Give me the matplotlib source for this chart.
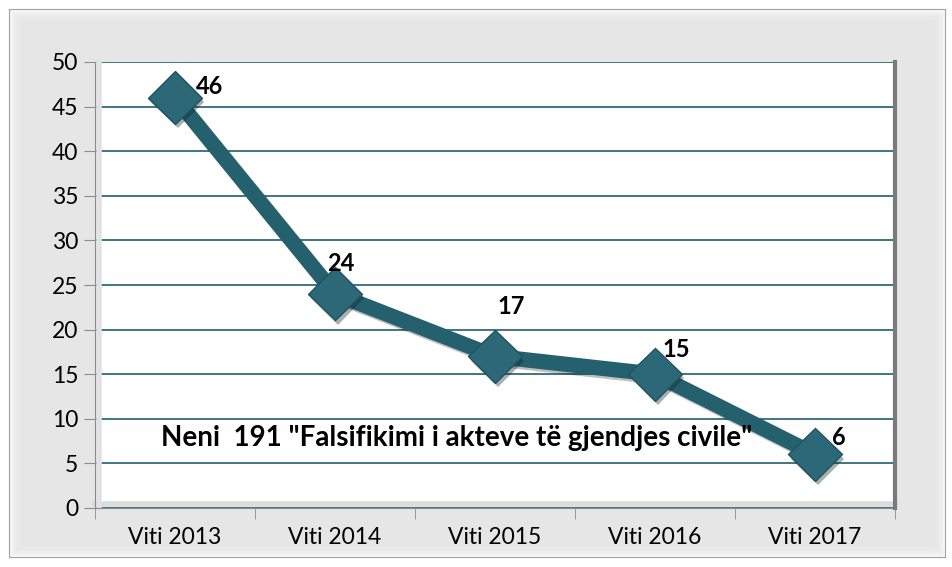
import matplotlib.pyplot as plt
from matplotlib.patches import Rectangle
import matplotlib.patheffects as pe

years = ["Viti 2013", "Viti 2014", "Viti 2015", "Viti 2016", "Viti 2017"]
cases = [46, 24, 17, 15, 6]
# label offsets in points (dx, dy) from each point, label centred
label_offsets = [(25, 8), (4, 22), (12, 36), (15, 18), (17, 12)]

title_text = 'Neni  191 "Falsifikimi i akteve të gjendjes civile"'

plt.rcParams["font.family"] = ["Lato", "DejaVu Sans"]

line_color = "#25606e"
grid_color = "#2f6a78"

fig = plt.figure(figsize=(9.53, 5.67), dpi=100)
fig.patch.set_facecolor("white")

# outer chart frame with a soft bevel
W, H = 953, 567
def fx(px):
    return px / W
def fy(py):
    return 1 - py / H

fig.patches.append(Rectangle((fx(10), fy(557)), fx(935) , 547 / H,
                             transform=fig.transFigure, facecolor="#e6e6e6",
                             edgecolor="#9a9a9a", linewidth=1.5, zorder=-5))
for i, c in enumerate(["#f4f4f4", "#eeeeee", "#e9e9e9"]):
    d = 2 + i * 3
    fig.patches.append(Rectangle((fx(10 + d), fy(557 - d)), (935 - 2 * d) / W,
                                 (547 - 2 * d) / H, transform=fig.transFigure,
                                 facecolor="none", edgecolor=c, linewidth=3,
                                 zorder=-4))

ax = fig.add_axes([fx(95), fy(508), 800 / W, 446 / H])
ax.set_facecolor("white")

x = list(range(len(years)))
ax.plot(x, cases, color=line_color, linewidth=11, solid_joinstyle="round",
        zorder=3,
        path_effects=[pe.SimpleLineShadow(offset=(2, -2), alpha=0.25),
                      pe.Normal()])
ax.plot(x, cases, linestyle="none", marker="D", markersize=27,
        markerfacecolor="#2c6877", markeredgecolor="#1f5360",
        markeredgewidth=1, zorder=4,
        path_effects=[pe.SimplePatchShadow(offset=(2, -3), alpha=0.35),
                      pe.Normal()])

for xi, v, (dx, dy) in zip(x, cases, label_offsets):
    ax.annotate(str(v), (xi, v), xytext=(dx, dy), textcoords="offset points",
                fontsize=17, fontweight="bold", ha="center", va="center",
                zorder=5)

ax.text(1.76, 7.9, title_text, fontsize=20, fontweight="bold",
        ha="center", va="center", zorder=5)

ax.set_xlim(-0.5, len(years) - 0.5)
ax.set_ylim(0, 50)
ax.set_yticks(range(0, 51, 5))
ax.set_xticks(x)
ax.set_xticklabels(years)
ax.set_xticks([i - 0.5 for i in range(len(years) + 1)], minor=True)
ax.yaxis.grid(True, color=grid_color, linewidth=1.3)
ax.set_axisbelow(True)

ax.tick_params(axis="x", which="major", length=0, pad=14, labelsize=16.5)
ax.tick_params(axis="x", which="minor", length=8, color="#8c8c8c")
ax.tick_params(axis="y", length=8, color="#8c8c8c", labelsize=16.5, pad=4)

for side in ["top", "right"]:
    ax.spines[side].set_visible(False)
ax.spines["left"].set_color("#8c8c8c")
ax.spines["bottom"].set_color("#8c8c8c")

# inner bevel of the plot area
ax.plot([1, 1], [0, 1], transform=ax.transAxes, color="#7a7a7a",
        linewidth=3, clip_on=False, zorder=6)
ax.plot([0, 1], [0.008, 0.008], transform=ax.transAxes, color="#dcdcdc",
        linewidth=4, clip_on=False, zorder=2)
ax.plot([0.005, 0.005], [0, 1], transform=ax.transAxes, color="#e2e2e2",
        linewidth=4, clip_on=False, zorder=2)

fig.savefig("out.png", dpi=100)
